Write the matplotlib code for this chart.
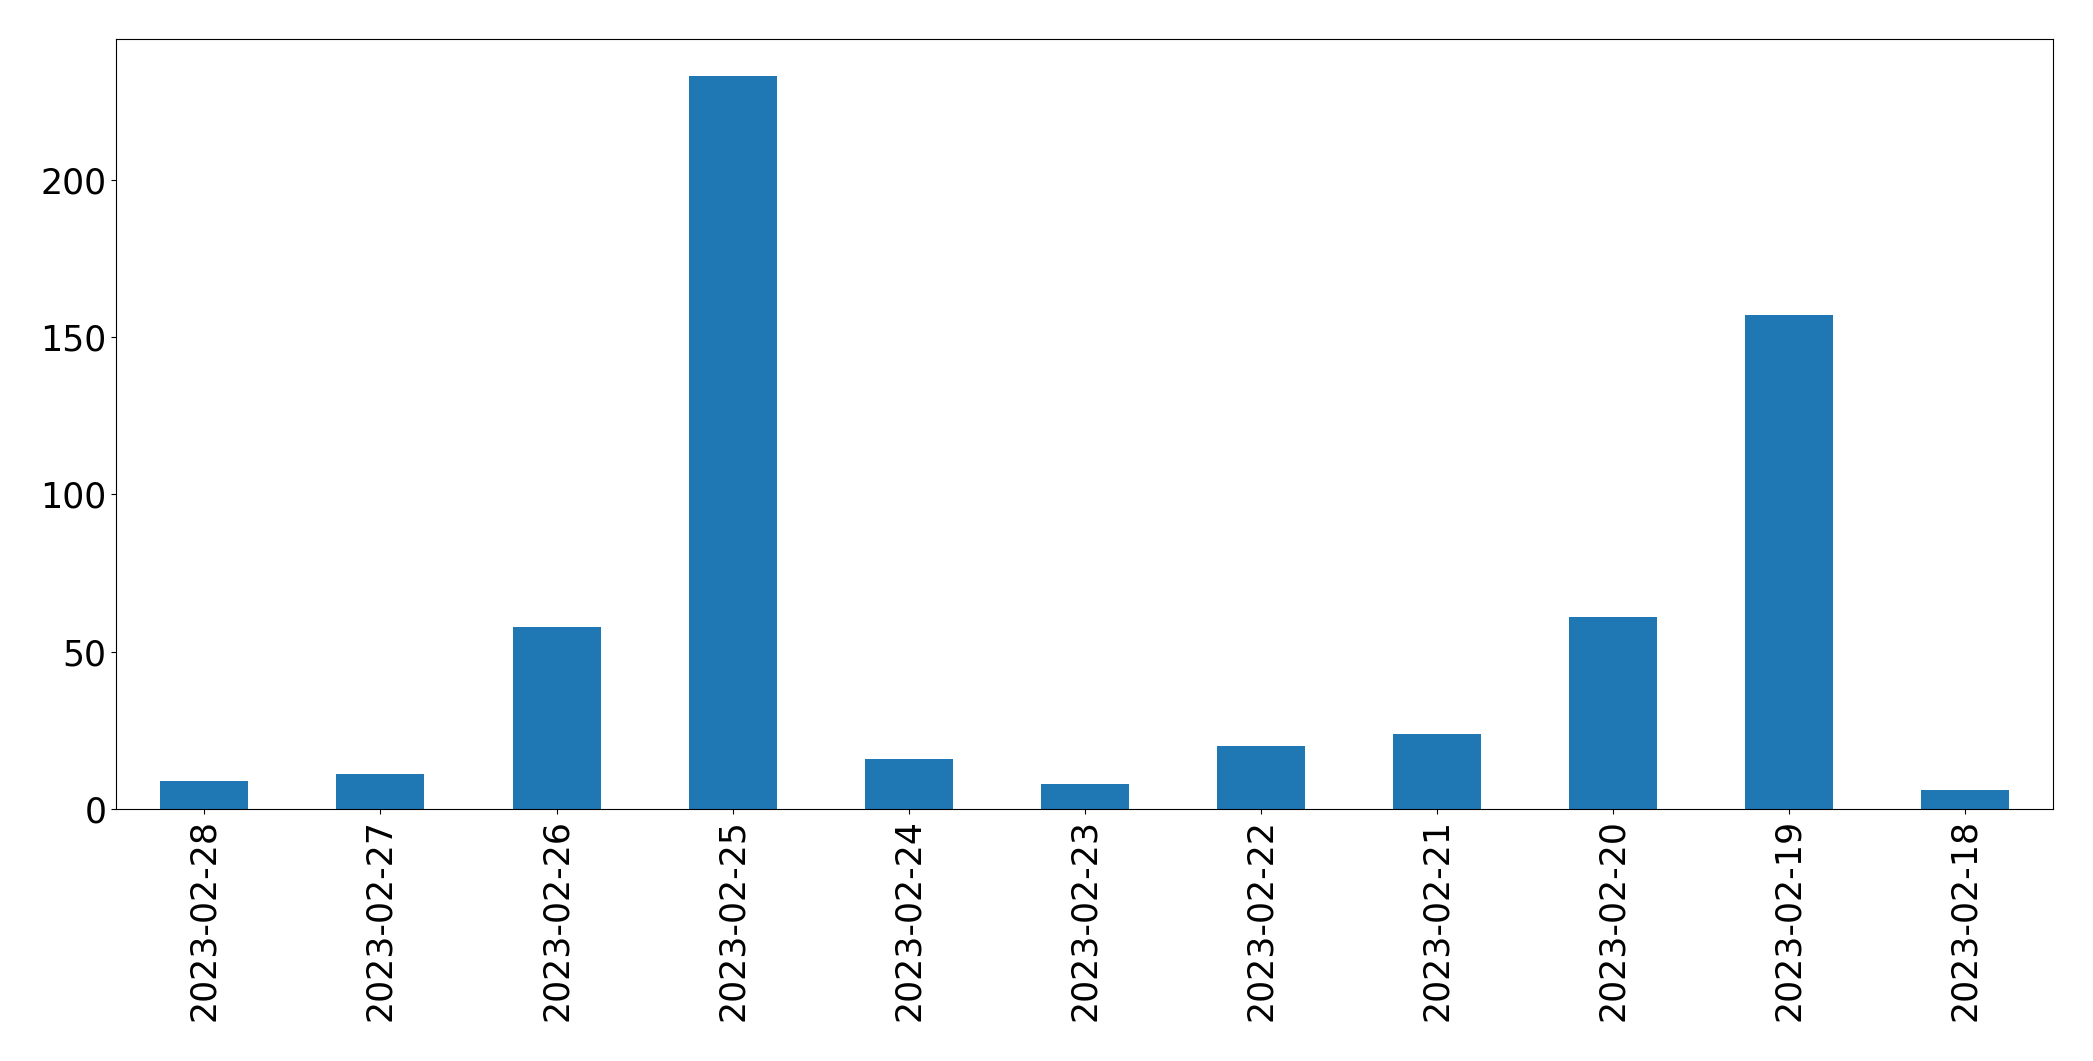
import matplotlib
matplotlib.use("Agg")
import matplotlib.pyplot as plt
import pandas as pd

# data
dates = ["2023-02-28", "2023-02-27", "2023-02-26", "2023-02-25", "2023-02-24",
         "2023-02-23", "2023-02-22", "2023-02-21", "2023-02-20", "2023-02-19",
         "2023-02-18"]
counts = [9, 11, 58, 233, 16, 8, 20, 24, 61, 157, 6]

s = pd.Series(counts, index=dates)

fig = plt.figure(figsize=(20.93, 10.61), dpi=100)
ax = fig.add_axes([0.0556, 0.2375, 0.9253, 0.7255])
s.plot(kind="bar", ax=ax, color="#1f77b4")
ax.tick_params(axis="both", labelsize=25)
plt.setp(ax.get_xticklabels(), rotation=90)

fig.savefig("out.png", dpi=100)
